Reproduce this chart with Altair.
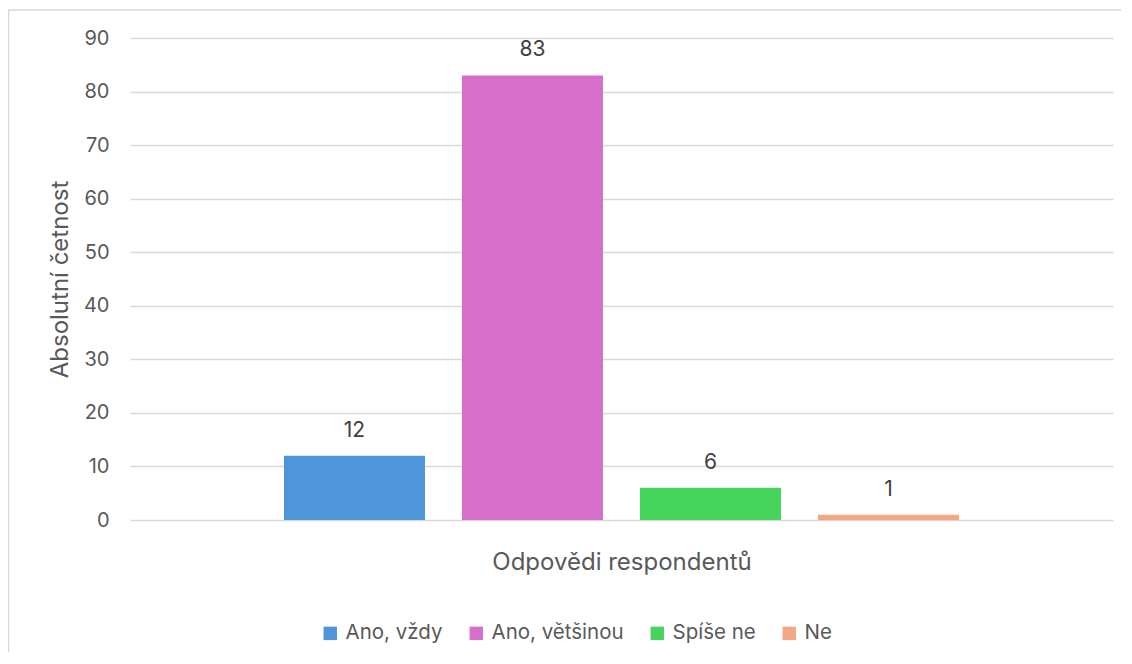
import altair as alt
import pandas as pd

categories = ["Ano, vždy", "Ano, většinou", "Spíše ne", "Ne"]
values = [12, 83, 6, 1]
colors = ["#4E95D9", "#D76FCA", "#47D45D", "#F1A883"]

df = pd.DataFrame({"odpoved": categories, "pocet": values})

FONT = "Inter"
W, H = 983, 482

x_enc = alt.X(
    "odpoved:N",
    sort=categories,
    scale=alt.Scale(paddingInner=0.208, paddingOuter=0.865),
    axis=alt.Axis(
        title="Odpovědi respondentů",
        labels=False,
        ticks=False,
        domain=False,
        grid=False,
        titleX=W / 2,
        titleY=42,
        titleAlign="center",
        titleBaseline="middle",
        titleFontSize=24,
        titleFontWeight="normal",
        titleColor="#595959",
        titleFont=FONT,
    ),
)

y_enc = alt.Y(
    "pocet:Q",
    scale=alt.Scale(domain=[0, 90], nice=False),
    axis=alt.Axis(
        title="Absolutní četnost",
        values=list(range(0, 91, 10)),
        ticks=False,
        domain=False,
        grid=True,
        gridColor="#d9d9d9",
        gridWidth=1.5,
        labelFontSize=20,
        labelColor="#595959",
        labelFont=FONT,
        labelPadding=21,
        titleX=-70,
        titleY=H / 2,
        titleAngle=270,
        titleAlign="center",
        titleBaseline="middle",
        titleFontSize=24,
        titleFontWeight="normal",
        titleColor="#595959",
        titleFont=FONT,
    ),
)

bars = alt.Chart(df).mark_bar().encode(
    x=x_enc,
    y=y_enc,
    color=alt.Color(
        "odpoved:N",
        sort=categories,
        scale=alt.Scale(domain=categories, range=colors),
        legend=alt.Legend(
            title=None,
            orient="none",
            direction="horizontal",
            legendX=190,
            legendY=585,
            symbolType="square",
            symbolSize=180,
            symbolStrokeWidth=0,
            labelFontSize=20.5,
            labelColor="#595959",
            labelFont=FONT,
            labelOffset=5,
            columnPadding=23,
        ),
    ),
)

labels = alt.Chart(df).mark_text(
    baseline="middle", dy=-25, fontSize=21, color="#404040", font=FONT
).encode(
    x=alt.X("odpoved:N", sort=categories),
    y="pocet:Q",
    text="pocet:Q",
)

border = alt.Chart(alt.Data(values=[{}])).mark_rect(
    fill="white", fillOpacity=0, stroke="#d9d9d9", strokeWidth=1.5
).encode(
    x=alt.value(-121.5), x2=alt.value(W + 200), y=alt.value(-28), y2=alt.value(H + 300)
)

chart = alt.layer(border, bars, labels).properties(
    width=W,
    height=H,
    autosize=alt.AutoSizeParams(type="none"),
    padding={"left": 122, "top": 30, "right": 8, "bottom": 132},
).configure(
    font=FONT,
    view=alt.ViewConfig(strokeWidth=0, stroke="transparent"),
)

chart.save("out.html", embed_options={"renderer": "svg", "actions": False})
